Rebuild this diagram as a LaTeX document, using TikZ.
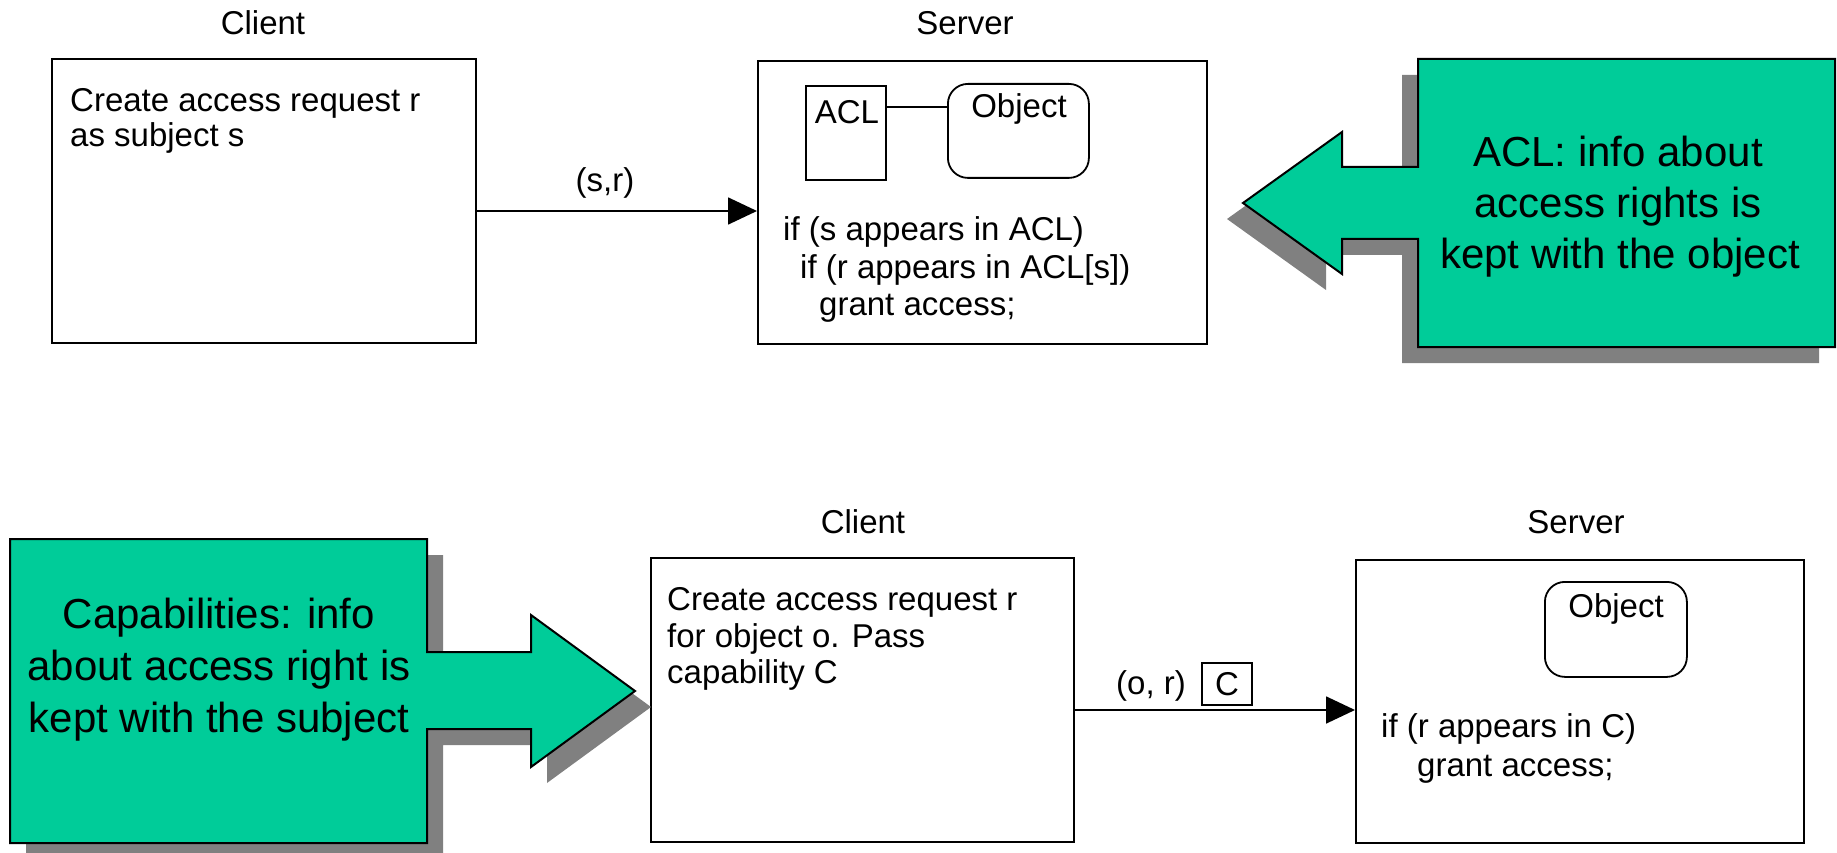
\documentclass[tikz,border=0pt]{standalone}
\usepackage{fontspec}
\setmainfont{Liberation Sans}
\usetikzlibrary{arrows.meta}
\definecolor{notegreen}{HTML}{00CC99}
\definecolor{shadowgray}{HTML}{808080}

\begin{document}
\begin{tikzpicture}[x=1pt,y=-1pt,
  box/.style={draw, line width=1.8pt, inner sep=0pt, anchor=north west},
  small/.style={font=\fontsize{33}{37}\selectfont, inner sep=0pt},
  big/.style={font=\fontsize{42}{51}\selectfont, inner sep=0pt, anchor=base},
  msg/.style={line width=1.8pt, -{Triangle[length=29pt,width=27pt]}},
  note/.style={fill=notegreen, draw=black, line width=2pt, line join=miter},
  noteshadow/.style={fill=shadowgray},
]
\useasboundingbox (0,0) rectangle (1837,853);

% ---------- ACL variant ----------
\node[small, anchor=base] (clientA) at (263,35) {Client};
\node[small, anchor=base] (serverA) at (965,35) {Server};

\node[box, minimum width=424pt, minimum height=284pt] (cboxA) at (51,58) {};
\node[small, anchor=base west] (cA1) at (70,112) {Create access request r};
\node[small, anchor=base west] (cA2) at (70,147) {as subject s};

\node[box, minimum width=449pt, minimum height=283pt] (sboxA) at (757,60) {};
\node[box, minimum width=80pt, minimum height=94pt] (acl) at (805,85) {};
\node[small, anchor=base] (acltext) at (847,124) {ACL};
\node[box, rounded corners=20pt, minimum width=141pt, minimum height=94pt] (objA) at (947,83) {};
\node[small, anchor=base] (objAtext) at (1019,118) {Object};
\coordinate (link) at (0,107);
\draw[line width=1.8pt] (acl.east |- link) -- (objA.west |- link);

\node[small, anchor=base west] (sA1) at (783,241) {if (s appears in ACL)};
\node[small, anchor=base west] (sA2) at (800,278) {if (r appears in ACL[s])};
\node[small, anchor=base west] (sA3) at (819,315) {grant access;};

\coordinate (mA) at (0,211);
\draw[msg] (cboxA.east |- mA) -- (sboxA.west |- mA);
\node[small, anchor=base] (mAlabel) at (605,192) {(s,r)};

% callout pointing left at the server
\fill[noteshadow, shift={(-16,16)}]
  (1418,59) -- (1835,59) -- (1835,347) -- (1418,347) -- (1418,239) -- (1342,239)
  -- (1342,274) -- (1243,203) -- (1342,132) -- (1342,167) -- (1418,167) -- cycle;
\path[note]
  (1418,59) -- (1835,59) -- (1835,347) -- (1418,347) -- (1418,239) -- (1342,239)
  -- (1342,274) -- (1243,203) -- (1342,132) -- (1342,167) -- (1418,167) -- cycle;
\node[big] (nA1) at (1618,167) {ACL: info about};
\node[big] (nA2) at (1618,218) {access rights is};
\node[big] (nA3) at (1620,269) {kept with the object};

% ---------- capability variant ----------
\node[small, anchor=base] (clientB) at (863,533) {Client};
\node[small, anchor=base] (serverB) at (1576,533) {Server};

\node[box, minimum width=423pt, minimum height=284pt] (cboxB) at (650,557) {};
\node[small, anchor=base west] (cB1) at (667,610) {Create access request r};
\node[small, anchor=base west] (cB2) at (667,647) {for object o. Pass};
\node[small, anchor=base west] (cB3) at (667,683) {capability C};

\node[box, minimum width=448pt, minimum height=283pt] (sboxB) at (1355,559) {};
\node[box, rounded corners=20pt, minimum width=142pt, minimum height=95pt] (objB) at (1544,581) {};
\node[small, anchor=base] (objBtext) at (1616,617) {Object};
\node[small, anchor=base west] (sB1) at (1381,737) {if (r appears in C)};
\node[small, anchor=base west] (sB2) at (1417,776) {grant access;};

\coordinate (mB) at (0,710);
\draw[msg] (cboxB.east |- mB) -- (sboxB.west |- mB);
\node[small, anchor=base] (mBlabel) at (1151,694) {(o, r)};
\node[draw, line width=1.6pt, inner sep=0pt, minimum width=50pt, minimum height=42pt,
      font=\fontsize{33}{37}\selectfont] (cap) at (1227,684) {C};

% callout pointing right at the client
\fill[noteshadow, shift={(16,16)}]
  (10,539) -- (427,539) -- (427,652) -- (531,652) -- (531,615) -- (635,691)
  -- (531,767) -- (531,729) -- (427,729) -- (427,843) -- (10,843) -- cycle;
\path[note]
  (10,539) -- (427,539) -- (427,652) -- (531,652) -- (531,615) -- (635,691)
  -- (531,767) -- (531,729) -- (427,729) -- (427,843) -- (10,843) -- cycle;
\node[big] (nB1) at (219,628) {Capabilities: info};
\node[big] (nB2) at (219,680) {about access right is};
\node[big] (nB3) at (219,732) {kept with the subject};
\end{tikzpicture}
\end{document}
